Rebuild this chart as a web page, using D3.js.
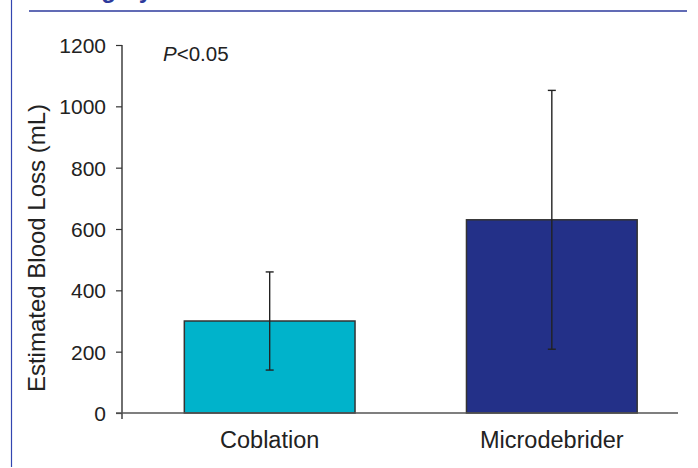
<!DOCTYPE html>
<html>
<head>
<meta charset="utf-8">
<script src="https://cdn.jsdelivr.net/npm/d3@7"></script>
<style>
  body { margin: 0; background: #fff; }
  svg text { font-family: "Liberation Sans", Arial, sans-serif; fill: #222; }
</style>
</head>
<body>
<div id="chart"></div>
<script>
// data
var categories = ["Coblation", "Microdebrider"];
var means = [300, 630];
var sds = [160, 422];
var barColors = ["#00b3cb", "#233088"];
var yTicks = [0, 200, 400, 600, 800, 1000, 1200];

var width = 698, height = 468;

var svg = d3.select("#chart").append("svg")
  .attr("width", width)
  .attr("height", height);

// page frame bits (left rule, header rule, clipped title)
svg.append("line")
  .attr("x1", 11.5).attr("x2", 11.5).attr("y1", 0).attr("y2", 467)
  .attr("stroke", "#3346b0").attr("stroke-width", 1.2);
svg.append("line")
  .attr("x1", 29).attr("x2", 687).attr("y1", 11).attr("y2", 11)
  .attr("stroke", "#2d3a9c").attr("stroke-width", 1.6);
svg.append("text")
  .attr("x", 152).attr("y", -2)
  .attr("text-anchor", "end")
  .style("font-size", "24px")
  .style("font-weight", "bold")
  .style("fill", "#2d3a9c")
  .text("Surgery");

// scales
var x = d3.scaleBand()
  .domain(categories)
  .range([128.6, 692.9])
  .paddingInner(0.395)
  .paddingOuter(0.1975);

var y = d3.scaleLinear()
  .domain([0, 1200])
  .range([413, 45]);

var axisX0 = 122;

// bars
svg.selectAll(".bar")
  .data(categories)
  .enter().append("rect")
  .attr("class", "bar")
  .attr("x", function(d) { return x(d); })
  .attr("y", function(d, i) { return y(means[i]); })
  .attr("width", x.bandwidth())
  .attr("height", function(d, i) { return y(0) - y(means[i]); })
  .attr("fill", function(d, i) { return barColors[i]; })
  .attr("stroke", "#333")
  .attr("stroke-width", 1.5);

// error bars
var err = svg.selectAll(".err")
  .data(categories)
  .enter().append("g")
  .attr("class", "err")
  .attr("stroke", "#222")
  .attr("stroke-width", 1.4);

err.append("line")
  .attr("x1", function(d) { return x(d) + x.bandwidth() / 2; })
  .attr("x2", function(d) { return x(d) + x.bandwidth() / 2; })
  .attr("y1", function(d, i) { return y(means[i] + sds[i]); })
  .attr("y2", function(d, i) { return y(means[i] - sds[i]); });

[1, -1].forEach(function(s) {
  err.append("line")
    .attr("x1", function(d) { return x(d) + x.bandwidth() / 2 - 4; })
    .attr("x2", function(d) { return x(d) + x.bandwidth() / 2 + 4; })
    .attr("y1", function(d, i) { return y(means[i] + s * sds[i]); })
    .attr("y2", function(d, i) { return y(means[i] + s * sds[i]); });
});

// y axis
var yAxis = svg.append("g")
  .attr("transform", "translate(" + axisX0 + ",0)")
  .call(d3.axisLeft(y).tickValues(yTicks).tickFormat(d3.format("d"))
    .tickSize(6).tickPadding(10).tickSizeOuter(0));
yAxis.select(".domain").remove();
yAxis.selectAll(".tick line").attr("stroke", "#333").attr("stroke-width", 1.2);
yAxis.selectAll(".tick text")
  .style("font-size", "21px")
  .attr("dy", "0.36em");

svg.append("line")
  .attr("x1", axisX0).attr("x2", axisX0)
  .attr("y1", y(1200)).attr("y2", y(0) + 6)
  .attr("stroke", "#333").attr("stroke-width", 1.4);

// x axis
svg.append("line")
  .attr("x1", axisX0 - 6).attr("x2", 678)
  .attr("y1", y(0)).attr("y2", y(0))
  .attr("stroke", "#555").attr("stroke-width", 1.4);

svg.selectAll(".xlabel")
  .data(categories)
  .enter().append("text")
  .attr("class", "xlabel")
  .attr("x", function(d) { return x(d) + x.bandwidth() / 2; })
  .attr("y", 448)
  .attr("text-anchor", "middle")
  .style("font-size", "23.5px")
  .text(function(d) { return d; });

// y title
svg.append("text")
  .attr("transform", "translate(45,248) rotate(-90)")
  .attr("text-anchor", "middle")
  .style("font-size", "24px")
  .text("Estimated Blood Loss (mL)");

// significance note
var note = svg.append("text")
  .attr("x", 163)
  .attr("y", 61)
  .style("font-size", "20.5px");
note.append("tspan").style("font-style", "italic").text("P");
note.append("tspan").text("<0.05");
</script>
</body>
</html>
